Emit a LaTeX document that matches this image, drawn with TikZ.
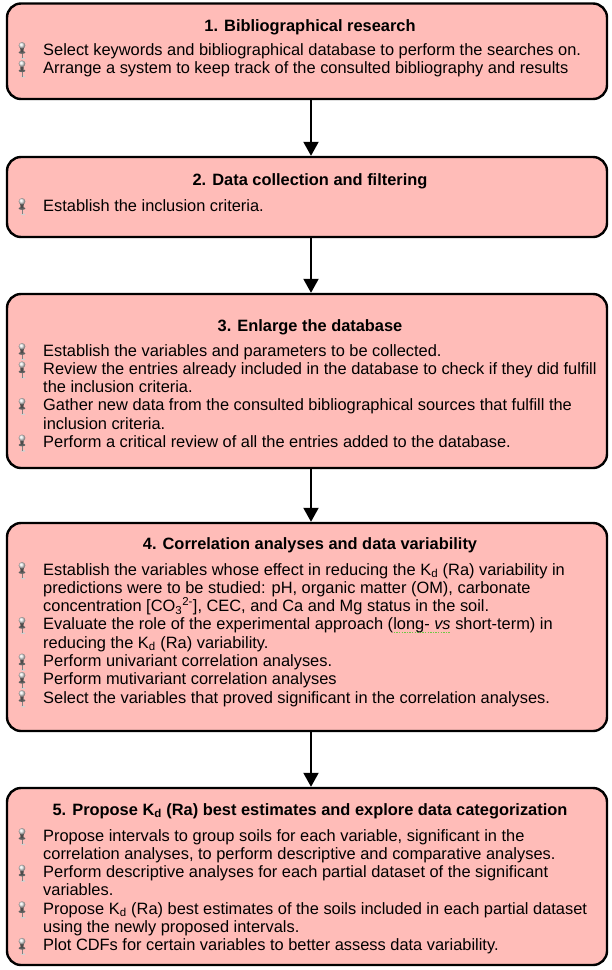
\documentclass[tikz,border=0pt]{standalone}
\usepackage{fontspec}
\setmainfont{Liberation Sans}
\usetikzlibrary{arrows.meta,calc}
\definecolor{boxpink}{RGB}{255,188,184}
\definecolor{ulgreen}{RGB}{110,200,70}
\newcommand\bodyfont{\fontsize{16.4}{18.3}\selectfont}
\newcommand\squig[1]{\setbox0=\hbox{#1}\rlap{\raisebox{-3pt}{\textcolor{ulgreen}{\leaders\hbox to 2.6pt{\hss\rule{1.4pt}{1.3pt}\hss}\hskip\wd0}}}\box0\relax}
\tikzset{
  stepbox/.style={draw=black, line width=2.4pt, fill=boxpink, rounded corners=14pt,
    minimum width=600pt, inner sep=0pt},
  titletxt/.style={anchor=base, inner sep=0pt, font=\bodyfont\bfseries},
  linetxt/.style={anchor=base west, inner sep=0pt, font=\bodyfont},
  flow/.style={line width=2pt, -{Triangle[width=15pt,length=14pt]}},
  pics/pushpin/.style={code={
    \fill[black!18] (1.2,3.4) ellipse (2.2pt and 0.9pt);
    \draw[black!50, line width=0.9pt] (0,3.2) -- (0,-2);
    \fill[black!62] (0,-2.6) ellipse (3.4pt and 1.4pt);
    \fill[black!70] (-1.3,-2.8) -- (1.3,-2.8) -- (1.8,-6.8) -- (-1.8,-6.8) -- cycle;
    \shade[ball color=black!8] (0,-9.6) circle (3.3pt);
  }}
}
\newcommand\pinline[3]{\pic at (22,#2) {pushpin}; \node[linetxt] (#1) at (43,#2) {#3};}
\newcommand\contline[3]{\node[linetxt] (#1) at (43,#2) {#3};}
\begin{document}
\begin{tikzpicture}[x=1pt,y=-1pt]
\useasboundingbox (0,0) rectangle (611,970);
% boxes
\node[stepbox, minimum height=95.5pt] (b1) at (307,51.25) {};
\node[stepbox, minimum height=80pt] (b2) at (307,197) {};
\node[stepbox, minimum height=174pt] (b3) at (307,381) {};
\node[stepbox, minimum height=208pt] (b4) at (307,627) {};
\node[stepbox, minimum height=177pt] (b5) at (307,876.5) {};
% connectors
\draw[flow] ($(b1.south)+(4,0)$) -- ($(b2.north)+(4,0)$);
\draw[flow] ($(b2.south)+(4,0)$) -- ($(b3.north)+(4,0)$);
\draw[flow] ($(b3.south)+(4,0)$) -- ($(b4.north)+(4,0)$);
\draw[flow] ($(b4.south)+(4,0)$) -- ($(b5.north)+(4,0)$);
% box 1
\node[titletxt] (t1) at (310,31) {1. Bibliographical research};
\pinline{l1a}{55}{Select keywords and bibliographical database to perform the searches on.}
\pinline{l1b}{73.3}{Arrange a system to keep track of the consulted bibliography and results}
% box 2
\node[titletxt] (t2) at (310,185) {2. Data collection and filtering};
\pinline{l2a}{211}{Establish the inclusion criteria.}
% box 3
\node[titletxt] (t3) at (310,331) {3. Enlarge the database};
\pinline{l3a}{356}{Establish the variables and parameters to be collected.}
\pinline{l3b}{374.3}{Review the entries already included in the database to check if they did fulfill}
\contline{l3c}{392.6}{the inclusion criteria.}
\pinline{l3d}{410.9}{Gather new data from the consulted bibliographical sources that fulfill the}
\contline{l3e}{429.2}{inclusion criteria.}
\pinline{l3f}{447.5}{Perform a critical review of all the entries added to the database.}
% box 4
\node[titletxt] (t4) at (310,549) {4. Correlation analyses and data variability};
\pinline{l4a}{575}{Establish the variables whose effect in reducing the K\textsubscript{d} (Ra) variability in}
\contline{l4b}{593.3}{predictions were to be studied: pH, organic matter (OM), carbonate}
\contline{l4c}{611.6}{concentration [CO\textsubscript{3}\textsuperscript{2-}], CEC, and Ca and Mg status in the soil.}
\pinline{l4d}{629.9}{Evaluate the role of the experimental approach (\squig{long- \textit{vs}} short-term) in}
\contline{l4e}{648.2}{reducing the K\textsubscript{d} (Ra) variability.}
\pinline{l4f}{666.5}{Perform univariant correlation analyses.}
\pinline{l4g}{684.8}{Perform mutivariant correlation analyses}
\pinline{l4h}{703.1}{Select the variables that proved significant in the correlation analyses.}
% box 5
\node[titletxt] (t5) at (310,815) {5. Propose K\textsubscript{d} (Ra) best estimates and explore data categorization};
\pinline{l5a}{841}{Propose intervals to group soils for each variable, significant in the}
\contline{l5b}{859.3}{correlation analyses, to perform descriptive and comparative analyses.}
\pinline{l5c}{877.6}{Perform descriptive analyses for each partial dataset of the significant}
\contline{l5d}{895.9}{variables.}
\pinline{l5e}{914.2}{Propose K\textsubscript{d} (Ra) best estimates of the soils included in each partial dataset}
\contline{l5f}{932.5}{using the newly proposed intervals.}
\pinline{l5g}{950.8}{Plot CDFs for certain variables to better assess data variability.}
\end{tikzpicture}
\end{document}
